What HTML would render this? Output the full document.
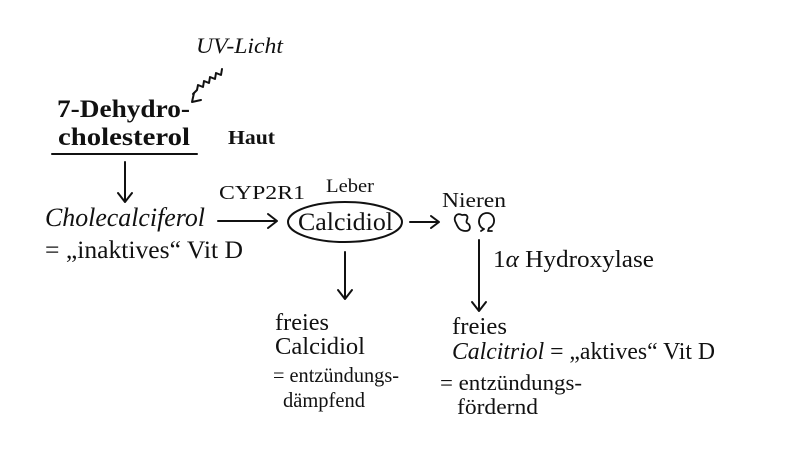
<!DOCTYPE html>
<html><head><meta charset="utf-8"><style>
html,body{margin:0;padding:0;background:#fff;}
svg{display:block;}
text{font-family:"Liberation Serif",serif;fill:#111;}
</style></head><body>
<svg width="787" height="457" viewBox="0 0 787 457" xmlns="http://www.w3.org/2000/svg">
<g stroke="#111" stroke-width="2" fill="none" stroke-linecap="round" stroke-linejoin="round">
<path d="M222,69 l-1,6 l-5,-2 l-1,6 l-5,-2 l-1,6 l-5,-2 l-1,6 l-5,-2 l-1,5 l-4,4"/>
<path d="M194,93 l-2,9 l9,-2"/>
<line x1="52" y1="154" x2="197" y2="154"/>
<line x1="125" y1="162" x2="125" y2="201"/>
<path d="M118,193 l7,9 l7,-9"/>
<line x1="218" y1="221" x2="276" y2="221"/>
<path d="M268,214 l9,7 l-9,7"/>
<ellipse cx="345" cy="222" rx="57" ry="20"/>
<line x1="410" y1="222" x2="438" y2="222"/>
<path d="M431,216 l8,6 l-8,6"/>
<line x1="345" y1="252" x2="345" y2="298"/>
<path d="M338,290 l7,9 l7,-9"/>
<line x1="479" y1="240" x2="479" y2="310"/>
<path d="M472,302 l7,9 l7,-9"/>
<path d="M462,215 c-6,-3 -9,3 -6,8 c2,5 4,8 10,8 c5,0 5,-6 1,-8 c-2,-2 2,-5 0,-7 c-1,-2 -3,-1 -5,-1z" stroke-width="1.8"/>
<path d="M484,229 c-8,-3 -6,-16 3,-16 c8,0 10,12 2,15 l-1,3 M484,229 l-3,2 M488,231 l4,0" stroke-width="1.8"/>
</g>
<text x="196" y="53" font-size="22" font-style="italic" textLength="87" lengthAdjust="spacingAndGlyphs">UV-Licht</text>
<text x="57" y="117" font-size="25" font-weight="bold" textLength="133" lengthAdjust="spacingAndGlyphs">7-Dehydro-</text>
<text x="58" y="145" font-size="25" font-weight="bold" textLength="132" lengthAdjust="spacingAndGlyphs">cholesterol</text>
<text x="228" y="144" font-size="20" font-weight="bold" textLength="47" lengthAdjust="spacingAndGlyphs">Haut</text>
<text x="45" y="226" font-size="26" font-style="italic" textLength="160" lengthAdjust="spacingAndGlyphs">Cholecalciferol</text>
<text x="45" y="258" font-size="25" textLength="198" lengthAdjust="spacingAndGlyphs">= „inaktives“ Vit D</text>
<text x="219" y="199" font-size="20" textLength="86" lengthAdjust="spacingAndGlyphs">CYP2R1</text>
<text x="326" y="192" font-size="19" textLength="48" lengthAdjust="spacingAndGlyphs">Leber</text>
<text x="298" y="230" font-size="25" textLength="95" lengthAdjust="spacingAndGlyphs">Calcidiol</text>
<text x="442" y="207" font-size="21" textLength="64" lengthAdjust="spacingAndGlyphs">Nieren</text>
<text x="493" y="267" font-size="24" textLength="161" lengthAdjust="spacingAndGlyphs">1<tspan font-style="italic">α</tspan> Hydroxylase</text>
<text x="275" y="330" font-size="24" textLength="54" lengthAdjust="spacingAndGlyphs">freies</text>
<text x="275" y="354" font-size="24" textLength="90" lengthAdjust="spacingAndGlyphs">Calcidiol</text>
<text x="273" y="382" font-size="21" textLength="126" lengthAdjust="spacingAndGlyphs">= entzündungs-</text>
<text x="283" y="407" font-size="21" textLength="82" lengthAdjust="spacingAndGlyphs">dämpfend</text>
<text x="452" y="334" font-size="24" textLength="55" lengthAdjust="spacingAndGlyphs">freies</text>
<text x="452" y="359" font-size="24" textLength="263" lengthAdjust="spacingAndGlyphs"><tspan font-style="italic">Calcitriol</tspan> = „aktives“ Vit D</text>
<text x="440" y="390" font-size="22" textLength="142" lengthAdjust="spacingAndGlyphs">= entzündungs-</text>
<text x="457" y="414" font-size="22" textLength="81" lengthAdjust="spacingAndGlyphs">fördernd</text>
</svg>
</body></html>
